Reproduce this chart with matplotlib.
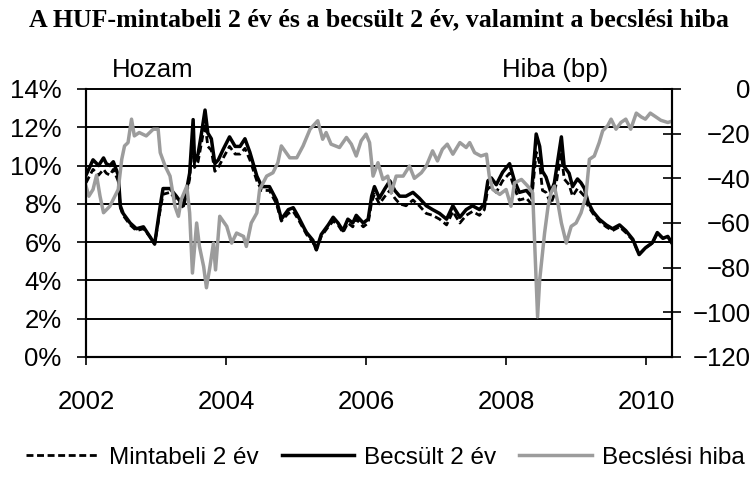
import matplotlib.pyplot as plt

# =========================
# DATA
# =========================
YEARS = [
    2002.00, 2002.10, 2002.18, 2002.25, 2002.29, 2002.34, 2002.39, 2002.46, 2002.49, 2002.53,
    2002.63, 2002.72, 2002.82, 2002.91, 2002.98, 2003.06, 2003.10, 2003.20, 2003.29, 2003.39,
    2003.44, 2003.48, 2003.53, 2003.55, 2003.60, 2003.65, 2003.70, 2003.74, 2003.79, 2003.84,
    2003.89, 2003.96, 2004.05, 2004.13, 2004.20, 2004.27, 2004.34, 2004.44, 2004.51, 2004.62,
    2004.72, 2004.79, 2004.89, 2004.96, 2005.03, 2005.12, 2005.15, 2005.24, 2005.29, 2005.36,
    2005.46, 2005.53, 2005.60, 2005.67, 2005.74, 2005.81, 2005.86, 2005.96, 2006.03, 2006.08,
    2006.12, 2006.19, 2006.27, 2006.34, 2006.41, 2006.48, 2006.57, 2006.67, 2006.76, 2006.86,
    2006.95, 2007.05, 2007.15, 2007.24, 2007.34, 2007.43, 2007.52, 2007.62, 2007.69, 2007.74,
    2007.79, 2007.86, 2007.95, 2008.05, 2008.12, 2008.19, 2008.29, 2008.36, 2008.43, 2008.48,
    2008.52, 2008.57, 2008.64, 2008.69, 2008.74, 2008.79, 2008.83, 2008.90, 2008.95, 2009.02,
    2009.07, 2009.12, 2009.17, 2009.24, 2009.33, 2009.43, 2009.52, 2009.62, 2009.71, 2009.81,
    2009.90, 2009.99, 2010.09, 2010.16, 2010.24, 2010.31, 2010.36,
]

BECSULT = [
    9.5, 10.3, 10.0, 10.4, 10.1, 10.0, 10.2, 9.5, 7.9, 7.5,
    7.0, 6.7, 6.8, 6.3, 5.9, 7.9, 8.8, 8.8, 8.4, 7.9,
    8.8, 9.6, 12.4, 10.2, 10.6, 11.7, 12.9, 11.7, 11.4, 10.1,
    10.3, 10.85, 11.5, 11.0, 11.0, 11.4, 10.7, 9.45, 8.9, 8.9,
    8.2, 7.2, 7.7, 7.8, 7.35, 6.7, 6.5, 6.1, 5.6, 6.4,
    6.9, 7.3, 7.0, 6.6, 7.2, 7.0, 7.4, 7.0, 7.2, 8.4,
    8.9, 8.3, 8.8, 9.2, 8.7, 8.4, 8.4, 8.6, 8.3, 7.9,
    7.7, 7.5, 7.2, 7.9, 7.3, 7.7, 7.9, 7.7, 8.0, 9.2,
    9.35, 9.0, 9.65, 10.1, 9.2, 8.6, 8.7, 8.4, 11.65, 11.0,
    9.7, 9.4, 8.6, 9.1, 10.3, 11.5, 9.95, 9.6, 8.9, 9.3,
    9.1, 8.8, 8.1, 7.6, 7.2, 6.9, 6.7, 6.9, 6.6, 6.15,
    5.35, 5.7, 5.97, 6.5, 6.2, 6.3, 6.0,
]

MINTABELI = [
    9.1, 9.8, 9.5, 9.8, 9.6, 9.5, 9.8, 9.2, 7.8, 7.4,
    6.9, 6.6, 6.7, 6.3, 5.9, 7.7, 8.5, 8.6, 8.2, 7.8,
    8.6, 9.3, 11.8, 9.9, 10.2, 11.2, 12.2, 11.0, 10.8, 9.7,
    9.9, 10.4, 11.0, 10.6, 10.6, 10.9, 10.3, 9.2, 8.7, 8.7,
    8.0, 7.1, 7.5, 7.6, 7.2, 6.6, 6.4, 6.0, 5.6, 6.3,
    6.8, 7.1, 6.9, 6.5, 7.0, 6.8, 7.2, 6.8, 7.0, 8.1,
    8.5, 8.0, 8.4, 8.7, 8.3, 8.0, 7.9, 8.2, 7.9, 7.5,
    7.4, 7.2, 6.9, 7.6, 7.0, 7.4, 7.6, 7.4, 7.7, 8.8,
    8.9, 8.6, 9.2, 9.6, 8.8, 8.2, 8.3, 8.0, 10.7, 10.1,
    8.7, 8.6, 8.0, 8.5, 9.6, 10.6, 9.3, 9.0, 8.4, 8.8,
    8.6, 8.4, 7.9, 7.5, 7.1, 6.8, 6.6, 6.8, 6.5, 6.1,
    5.35, 5.7, 5.95, 6.45, 6.2, 6.3, 6.0,
]

HIBA_YEARS = [
    2002.00, 2002.04, 2002.10, 2002.15, 2002.20, 2002.25, 2002.34, 2002.46, 2002.51, 2002.55,
    2002.60, 2002.65, 2002.69, 2002.76, 2002.86, 2002.96, 2003.03, 2003.06, 2003.13, 2003.20,
    2003.27, 2003.32, 2003.36, 2003.44, 2003.48, 2003.52, 2003.58, 2003.62, 2003.68, 2003.72,
    2003.77, 2003.82, 2003.85, 2003.91, 2004.01, 2004.08, 2004.15, 2004.25, 2004.29, 2004.36,
    2004.44, 2004.48, 2004.58, 2004.67, 2004.74, 2004.79, 2004.91, 2005.01, 2005.10, 2005.20,
    2005.31, 2005.38, 2005.43, 2005.50, 2005.62, 2005.72, 2005.79, 2005.86, 2005.93, 2006.00,
    2006.05, 2006.10, 2006.17, 2006.24, 2006.31, 2006.36, 2006.43, 2006.53, 2006.62, 2006.69,
    2006.79, 2006.86, 2006.95, 2007.02, 2007.09, 2007.16, 2007.24, 2007.34, 2007.43, 2007.48,
    2007.55, 2007.64, 2007.72, 2007.76, 2007.81, 2007.91, 2008.00, 2008.07, 2008.12, 2008.22,
    2008.31, 2008.38, 2008.45, 2008.48, 2008.55, 2008.60, 2008.64, 2008.69, 2008.74, 2008.79,
    2008.86, 2008.93, 2009.00, 2009.07, 2009.14, 2009.19, 2009.26, 2009.33, 2009.38, 2009.45,
    2009.50, 2009.57, 2009.64, 2009.71, 2009.78, 2009.86, 2009.93, 2009.99, 2010.06, 2010.14,
    2010.21, 2010.31, 2010.36,
]

HIBA = [
    -43.5, -48, -45, -38.6, -48, -55.4, -52.5, -45, -31.5, -25.5,
    -24, -13.5, -21, -19.5, -21, -18, -18, -28.5, -34.5, -39,
    -52.5, -57, -49.5, -43.5, -55.5, -82.4, -60, -70.5, -79.5, -89,
    -79.5, -69, -81, -57, -61.5, -69, -64.5, -66, -70.5, -60,
    -55.5, -45, -39, -37.5, -33, -25.5, -30.8, -30.8, -25.5, -18,
    -14.2, -22.5, -19.5, -24.7, -26.2, -21.7, -24.7, -30, -23.2, -20.2,
    -24, -39, -33, -40.5, -39, -46.5, -39, -39, -34.5, -40,
    -37.5, -34.5, -27.7, -32.2, -27, -24.7, -29.2, -24, -26.2, -24,
    -28.5, -30, -29.2, -39, -45, -47.2, -45, -52.5, -42, -40.5,
    -43.5, -46.5, -102, -85.5, -64.5, -52.5, -46.5, -43.5, -51, -60,
    -69, -61.5, -60, -55.5, -48, -31.5, -30, -24, -18.7, -16.5,
    -13.5, -18, -15, -13.5, -18, -10.8, -12.5, -13.5, -10.8, -12.5,
    -14, -15, -14.5,
]

LEFT_TICKS = [0, 2, 4, 6, 8, 10, 12, 14]
LEFT_LABELS = ["0%", "2%", "4%", "6%", "8%", "10%", "12%", "14%"]
RIGHT_TICKS = [0, -20, -40, -60, -80, -100, -120]
RIGHT_LABELS = ["0", "\u221220", "\u221240", "\u221260", "\u221280", "\u2212100", "\u2212120"]
X_TICKS = [2002, 2004, 2006, 2008, 2010]

TITLE = "A HUF-mintabeli 2 év és a becsült 2 év, valamint a becslési hiba"

# =========================
# STYLE
# =========================
plt.rcParams["font.family"] = ["Liberation Sans", "DejaVu Sans"]
FS = 18.5
GRAY = "#9c9c9c"

fig = plt.figure(figsize=(7.5, 4.79), dpi=100)
ax = fig.add_axes([0.1147, 0.2547, 0.7813, 0.5595])
ax2 = ax.twinx()

# =========================
# LINES
# =========================
l1, = ax.plot(YEARS, MINTABELI, color="black", lw=2.0, dashes=(2.5, 1.3),
              label="Mintabeli 2 év", zorder=3)
l2, = ax.plot(YEARS, BECSULT, color="black", lw=2.5, label="Becsült 2 év", zorder=4)
l3, = ax2.plot(HIBA_YEARS, HIBA, color=GRAY, lw=2.5, label="Becslési hiba")

# gridlines (black, drawn full width incl. top edge)
for v in LEFT_TICKS[1:]:
    ax.axhline(v, color="black", lw=1.4, zorder=1, clip_on=False)

ax.set_xlim(2002, 2010.37)
ax.set_ylim(0, 14)
ax2.set_ylim(-120, 0)

ax.set_xticks(X_TICKS)
ax.set_xticklabels([str(x) for x in X_TICKS], fontsize=FS)
ax.set_yticks(LEFT_TICKS)
ax.set_yticklabels(LEFT_LABELS, fontsize=FS)
ax2.set_yticks(RIGHT_TICKS)
ax2.set_yticklabels(RIGHT_LABELS, fontsize=FS, ha="right")

ax.tick_params(axis="x", direction="out", length=6, width=1.2, pad=18)
ax.tick_params(axis="y", direction="out", length=6.5, width=1.2, pad=11)
ax2.tick_params(axis="y", direction="inout", length=13, width=1.2, pad=50)

for a in (ax, ax2):
    a.spines["top"].set_visible(False)
    for s in ("left", "right", "bottom"):
        a.spines[s].set_linewidth(1.5)

# =========================
# TEXTS
# =========================
fig.text(0.505, 0.958, TITLE, ha="center", va="center", fontsize=18.6,
         fontweight="bold", family=["Liberation Serif", "DejaVu Serif"])
fig.text(0.204, 0.854, "Hozam", ha="center", va="center", fontsize=FS)
fig.text(0.74, 0.854, "Hiba (bp)", ha="center", va="center", fontsize=FS)

fig.legend(handles=[l1, l2, l3], loc="center", bbox_to_anchor=(0.514, 0.044),
           ncol=3, frameon=False, fontsize=17.5, handlelength=3.0,
           handletextpad=0.4, columnspacing=0.95, borderpad=0)

fig.savefig("out.png", dpi=100)
